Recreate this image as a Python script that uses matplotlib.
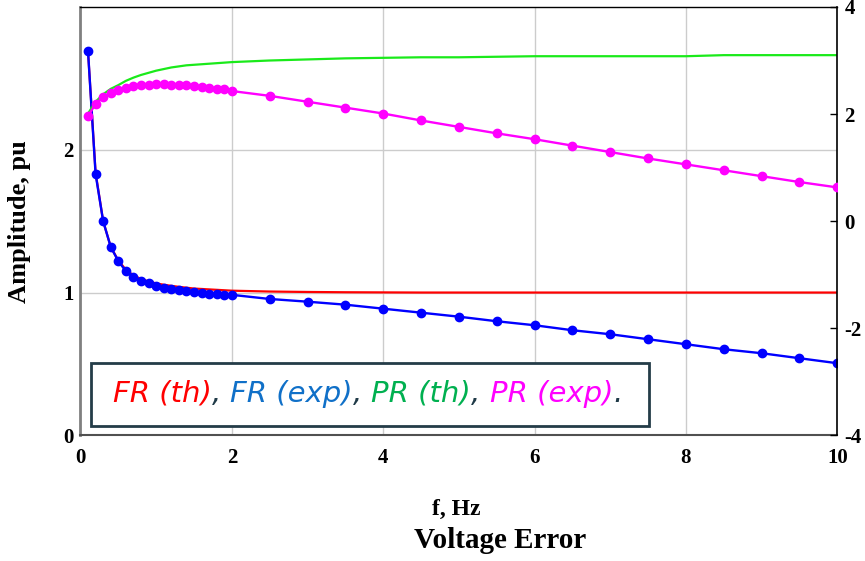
import matplotlib
matplotlib.use("Agg")
import matplotlib.pyplot as plt
from matplotlib.patches import Rectangle
from matplotlib.offsetbox import TextArea, HPacker, AnchoredOffsetbox

# ----------------------------- DATA -----------------------------
FREQ = [0.1, 0.2, 0.3, 0.4, 0.5, 0.6, 0.7, 0.8, 0.9, 1.0,
        1.1, 1.2, 1.3, 1.4, 1.5, 1.6, 1.7, 1.8, 1.9, 2.0,
        2.5, 3.0, 3.5, 4.0, 4.5, 5.0, 5.5, 6.0, 6.5, 7.0,
        7.5, 8.0, 8.5, 9.0, 9.5, 10.0]
FR_TH = [2.69, 1.84, 1.50, 1.32, 1.225, 1.16, 1.12, 1.095, 1.078, 1.064,
         1.055, 1.047, 1.040, 1.034, 1.028, 1.025, 1.022, 1.019, 1.016, 1.013,
         1.007, 1.004, 1.002, 1.001, 1.0, 1.0, 1.0, 1.0, 1.0, 1.0,
         1.0, 1.0, 1.0, 1.0, 1.0, 1.0]
FR_EXP = [2.69, 1.83, 1.50, 1.32, 1.22, 1.15, 1.11, 1.083, 1.067, 1.046,
          1.034, 1.025, 1.018, 1.011, 1.004, 0.997, 0.992, 0.988, 0.985, 0.984,
          0.955, 0.936, 0.915, 0.887, 0.859, 0.831, 0.799, 0.771, 0.736, 0.708,
          0.673, 0.638, 0.603, 0.575, 0.540, 0.505]
PR_TH = [2.01, 2.23, 2.37, 2.47, 2.54, 2.62, 2.68, 2.73, 2.77, 2.81,
         2.84, 2.87, 2.89, 2.91, 2.92, 2.93, 2.94, 2.95, 2.96, 2.97,
         3.00, 3.02, 3.04, 3.05, 3.06, 3.06, 3.07, 3.08, 3.08, 3.08,
         3.08, 3.08, 3.10, 3.10, 3.10, 3.10]
PR_EXP = [1.96, 2.19, 2.32, 2.40, 2.45, 2.49, 2.53, 2.55, 2.55, 2.57,
          2.57, 2.55, 2.55, 2.54, 2.53, 2.51, 2.49, 2.47, 2.46, 2.43,
          2.34, 2.23, 2.12, 2.01, 1.88, 1.76, 1.64, 1.53, 1.41, 1.29,
          1.17, 1.06, 0.95, 0.84, 0.73, 0.63]

XTICKS = [0, 2, 4, 6, 8, 10]
YTICKS_L = [0, 1, 2]
YTICKS_R = [-4, -2, 0, 2, 4]
YTICKLABELS_R = ["-4", "-2", "0", "2", "4"]

LEGEND_PARTS = [("FR (th)", "#ff0000"), (", ", "#1f3a47"),
                ("FR (exp)", "#1070c8"), (", ", "#1f3a47"),
                ("PR (th)", "#00b050"), (", ", "#1f3a47"),
                ("PR (exp)", "#ff00ff"), (".", "#1f3a47")]

# ----------------------------- STYLE -----------------------------
SERIF = "Liberation Serif"
TICKFONT = dict(family=SERIF, weight="bold", size=15)

fig = plt.figure(figsize=(8.65, 5.61), dpi=100)
ax = fig.add_axes([0.093, 0.224, 0.875, 0.7636])
ax2 = ax.twinx()

ax.plot(FREQ, FR_TH, color="#ff0000", lw=1.6, zorder=2)
ax.plot(FREQ, FR_EXP, color="#0000ff", lw=1.7, marker="o", ms=6, zorder=3)
ax2.plot(FREQ, PR_TH, color="#1aea1a", lw=1.6, zorder=2)
ax2.plot(FREQ, PR_EXP, color="#ff00ff", lw=1.7, marker="o", ms=6, zorder=3)

ax.set_xlim(0, 10)
ax.set_ylim(0, 3)
ax2.set_ylim(-4, 4)

ax.set_xticks(XTICKS)
ax.set_xticklabels([str(t) for t in XTICKS], fontdict=TICKFONT)
ax.set_yticks(YTICKS_L)
ax.set_yticklabels([str(t) for t in YTICKS_L], fontdict=TICKFONT)
ax.tick_params(axis="both", length=0)
ax.tick_params(axis="x", pad=9)
ax.tick_params(axis="y", pad=5)
ax2.set_yticks(YTICKS_R)
ax2.set_yticklabels(YTICKLABELS_R, fontdict=TICKFONT)
ax2.tick_params(axis="y", direction="in", length=5, width=1, color="black", pad=5)

ax.grid(True, color="#cccccc", lw=1, zorder=0)

for s in ["left", "top", "bottom"]:
    ax2.spines[s].set_visible(False)
ax.spines["right"].set_visible(False)
ax.spines["left"].set_color("#808080")
ax.spines["left"].set_linewidth(2)
ax.spines["bottom"].set_color("#505050")
ax.spines["bottom"].set_linewidth(1.5)
ax.spines["top"].set_color("black")
ax.spines["top"].set_linewidth(1)
ax2.spines["right"].set_color("black")
ax2.spines["right"].set_linewidth(1.2)

ax.set_ylabel("Amplitude, pu", family=SERIF, weight="bold", size=19, va="center")
ax.yaxis.set_label_coords(-0.08, 0.5)
ax.set_xlabel("f, Hz", family=SERIF, weight="bold", size=17, va="top")
ax.xaxis.set_label_coords(0.497, -0.148)
fig.text(0.578, 0.023, "Voltage Error", family=SERIF, weight="bold", size=21,
         ha="center", va="baseline")

# legend-like text box
ax.add_patch(Rectangle((0.0139, 0.0217), 0.737, 0.147, transform=ax.transAxes,
                       facecolor="white", edgecolor="#243c48", lw=2, zorder=5))
parts = [TextArea(t, textprops=dict(color=c, family="DejaVu Sans", style="italic", size=21))
         for t, c in LEGEND_PARTS]
box = AnchoredOffsetbox(loc="center left", child=HPacker(children=parts, sep=0, pad=0),
                        pad=0, borderpad=0, frameon=False,
                        bbox_to_anchor=(0.043, 0.097), bbox_transform=ax.transAxes)
box.set_zorder(6)
ax.add_artist(box)

fig.savefig("out.png", dpi=100)
